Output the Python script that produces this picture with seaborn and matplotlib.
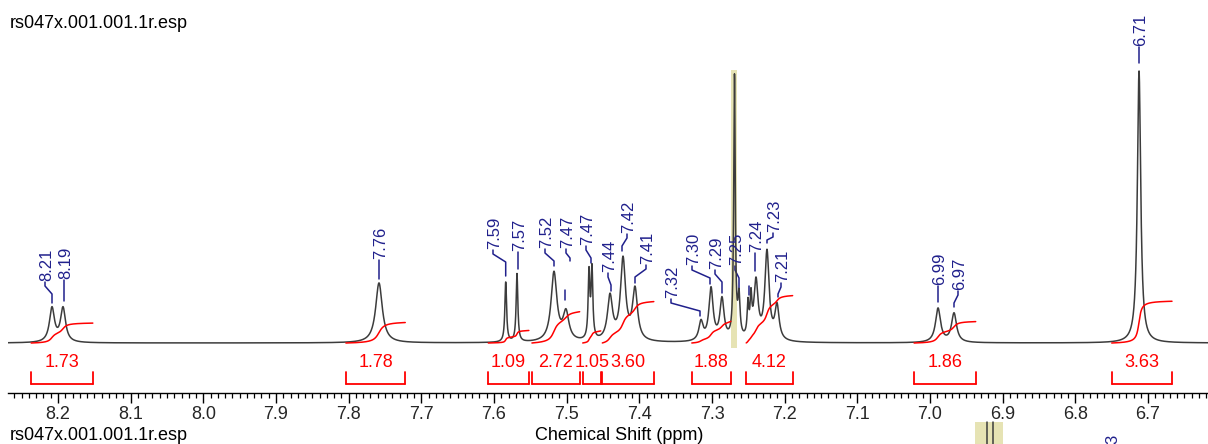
import numpy as np
import pandas as pd
import matplotlib
matplotlib.use("Agg")
import matplotlib.pyplot as plt
import seaborn as sns
from matplotlib.patches import Rectangle
from matplotlib.lines import Line2D
from matplotlib.ticker import MultipleLocator, FormatStrFormatter

sns.set_theme(style="white")
plt.rcParams['font.family'] = ['Liberation Sans', 'DejaVu Sans']

# ---------------- data ----------------
peak_ppm = [8.2083, 8.1931, 7.7583, 7.5839, 7.5684, 7.5175, 7.5010, 7.4693, 7.4652,
            7.4404, 7.4225, 7.4060, 7.3152, 7.3014, 7.2863, 7.2691, 7.2629, 7.2505,
            7.2464, 7.2395, 7.2244, 7.2106, 6.9890, 6.9670, 6.7124]
peak_height = [34, 34, 60, 60, 68, 69, 28, 66, 69,
               44, 81, 51, 19, 52, 41, 262, 40, 32,
               36, 58, 88, 34, 34, 29, 272]
peak_fwhm = [0.0083, 0.0083, 0.011, 0.0028, 0.0028, 0.0096, 0.0096, 0.0028, 0.0028,
             0.0083, 0.0083, 0.0083, 0.0069, 0.0069, 0.0069, 0.0025, 0.0035, 0.0028,
             0.0028, 0.0069, 0.0069, 0.0069, 0.0083, 0.0083, 0.0055]

int_labels = ["1.73", "1.78", "1.09", "2.72", "1.05", "3.60", "1.88", "4.12", "1.86", "3.63"]
int_values = [1.73, 1.78, 1.09, 2.72, 1.05, 3.60, 1.88, 4.12, 1.86, 3.63]
int_start = [8.237, 7.804, 7.608, 7.548, 7.478, 7.451, 7.328, 7.253, 7.022, 6.750]
int_end = [8.152, 7.722, 7.552, 7.482, 7.453, 7.380, 7.274, 7.189, 6.937, 6.667]

label_text = ["8.21", "8.19", "7.76", "7.59", "7.57", "7.52", "7.47", "7.47", "7.44", "7.42",
              "7.41", "7.32", "7.30", "7.29", "7.25", "7.24", "7.23", "7.21", "6.99", "6.97", "6.71"]

title_text = "rs047x.001.001.1r.esp"
xlabel_text = "Chemical Shift (ppm)"

# ---------------- layout helpers (pixel -> data) ----------------
W, H = 1208, 444
def xp(px):
    return 8.2 - (px - 58) / 726.7
def yp(py):
    return 343 - py

# label layout: (label x px, text bottom px, peak x px, leader end px)
label_layout = [(45, 281, 52, 303), (64, 279, 63, 301), (379, 259, 379, 279),
                (493, 249, 505.7, 276), (518, 251, 517, 269), (545, 248, 554, 266),
                (566, 248, 570, 261), (586, 245, 591, 263), (608, 272, 611, 291),
                (627, 233, 622, 251), (646, 264, 635, 283), (671, 298, 700, 316),
                (692, 265, 710, 284), (715, 269, 722, 293), (735, 265, 739, 291),
                (755, 252, 756, 271), (773, 232, 767, 243), (781, 282, 778, 297),
                (938, 285, 938, 302), (958, 290, 954, 307), (1139, 46, 1139, 63)]
extra_dashes = [(565, 290, 300), (749, 286, 295)]

navy = '#20208C'
red = '#FF0000'

# ---------------- spectrum ----------------
x = np.linspace(xp(8), xp(1208), 9000)
y = np.zeros_like(x)
for c, h, w in zip(peak_ppm, peak_height, peak_fwhm):
    hw = w / 2
    y += h / (1 + ((x - c) / hw) ** 2)
df = pd.DataFrame({"ppm": x, "intensity": y})

fig = plt.figure(figsize=(W / 100, H / 100), dpi=100)
ax = fig.add_axes([8 / W, 51 / H, 1200 / W, 393 / H])
ax.set_facecolor('white')

# solvent band
band = Rectangle((xp(731), yp(348)), xp(737) - xp(731), yp(70) - yp(348),
                 facecolor='#E6E3B4', edgecolor='none', zorder=1)
ax.add_patch(band)

sns.lineplot(data=df, x="ppm", y="intensity", ax=ax, color='#3c3c3c', linewidth=1.1,
             estimator=None, sort=False, zorder=3)
clip = Rectangle((xp(8), yp(400)), xp(1208) - xp(8), yp(70) - yp(400),
                 transform=ax.transData, facecolor='none', edgecolor='none')
for ln in ax.lines:
    ln.set_clip_path(clip)

# integrals
scale = 11.5
for lab, val, s, e in zip(int_labels, int_values, int_start, int_end):
    m = (df.ppm <= s) & (df.ppm >= e)
    seg = df[m]
    cum = np.cumsum(seg.intensity.values)
    cum = cum / cum[-1] * val * scale
    ax.plot(seg.ppm.values, cum, color=red, linewidth=1.1, zorder=4)
    ax.plot([s, e], [yp(384), yp(384)], color=red, linewidth=1.3)
    ax.plot([s, s], [yp(372), yp(384)], color=red, linewidth=1.3)
    ax.plot([e, e], [yp(372), yp(384)], color=red, linewidth=1.3)
    ax.text((s + e) / 2, yp(367), lab, color=red, fontsize=13, ha='center', va='baseline')

# peak labels
for t, (lx, tb, pxx, end) in zip(label_text, label_layout):
    ax.text(xp(lx + 1.5), yp(tb), t, rotation=90, ha='center', va='bottom', color=navy, fontsize=12)
    if abs(lx - pxx) < 2:
        xs = [xp(lx), xp(lx)]
        ys = [yp(tb + 1), yp(end)]
    else:
        mid = min(tb + 13, end - 3)
        xs = [xp(lx), xp(lx), xp(pxx), xp(pxx)]
        ys = [yp(tb + 1), yp(tb + 5), yp(mid), yp(end)]
    ax.plot(xs, ys, color=navy, linewidth=1.1)
for dx, d0, d1 in extra_dashes:
    ax.plot([xp(dx), xp(dx)], [yp(d0), yp(d1)], color=navy, linewidth=1.1)

ax.set_xlim(xp(8), xp(1208))
ax.set_ylim(yp(393), yp(0))
ax.set_xlabel("")
ax.set_ylabel("")
ax.set_yticks([])
for sp in ['top', 'left', 'right']:
    ax.spines[sp].set_visible(False)
ax.spines['bottom'].set_color('black')
ax.spines['bottom'].set_linewidth(1.0)
ax.xaxis.set_major_locator(MultipleLocator(0.1))
ax.xaxis.set_minor_locator(MultipleLocator(0.01))
ax.xaxis.set_major_formatter(FormatStrFormatter('%.1f'))
ax.tick_params(axis='x', which='major', direction='out', length=7, width=1.0,
               color='black', labelsize=13, pad=2.5, bottom=True)
ax.tick_params(axis='x', which='minor', direction='out', length=3.5, width=0.9,
               color='black', bottom=True)

# figure texts
fig.text(10 / W, 1 - 28 / H, title_text, ha='left', va='baseline', fontsize=13, color='black')
fig.text(10 / W, 1 - 440 / H, title_text, ha='left', va='baseline', fontsize=13, color='black')
fig.text(619 / W, 1 - 440 / H, xlabel_text, ha='center', va='baseline', fontsize=13, color='black')
fig.patches.append(Rectangle((975 / W, 0), 28 / W, 22 / H, transform=fig.transFigure,
                             facecolor='#E6E3B4', edgecolor='none', figure=fig))
for lxp in (987, 993):
    fig.add_artist(Line2D([lxp / W, lxp / W], [0, 22 / H], color='#3c3c3c', linewidth=1.1))
fig.text(1113 / W, 0, "3", rotation=90, ha='center', va='bottom', color=navy, fontsize=12)

fig.savefig('out.png', dpi=100)
